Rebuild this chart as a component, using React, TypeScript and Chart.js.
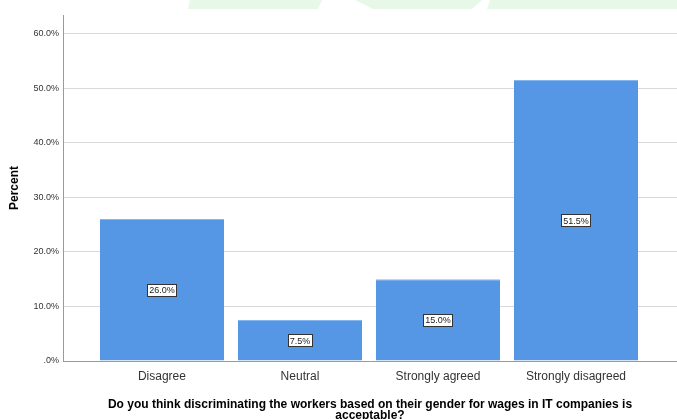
import React, { useEffect, useRef } from "react";
import { Chart, registerables } from "chart.js";

Chart.register(...registerables);

const categories = ["Disagree", "Neutral", "Strongly agreed", "Strongly disagreed"];
const percents = [26.0, 7.5, 15.0, 51.5];
const yTicks = [0, 10, 20, 30, 40, 50, 60];
const xTitleLines = [
  "Do you think discriminating the workers based on their gender for wages in IT companies is",
  "acceptable?",
];
const yTitle = "Percent";

const fmtPct = (v: number) => {
  const s = v.toFixed(1);
  return (s.startsWith("0") ? s.slice(1) : s) + "%";
};

const watermark = {
  id: "watermark",
  beforeDraw(chart: any) {
    const ctx = chart.ctx;
    ctx.save();
    ctx.fillStyle = "#e8f8e8";
    ctx.beginPath();
    ctx.moveTo(190, 0);
    ctx.lineTo(677, 0);
    ctx.lineTo(677, 9);
    ctx.lineTo(188, 9);
    ctx.closePath();
    ctx.fill();
    ctx.fillStyle = "#ffffff";
    ctx.beginPath();
    ctx.moveTo(322, 0);
    ctx.lineTo(355, 0);
    ctx.lineTo(373, 9);
    ctx.lineTo(318, 9);
    ctx.closePath();
    ctx.fill();
    ctx.beginPath();
    ctx.moveTo(482, 0);
    ctx.lineTo(490, 0);
    ctx.lineTo(487, 9);
    ctx.lineTo(472, 9);
    ctx.closePath();
    ctx.fill();
    ctx.restore();
  },
};

const valueLabels = {
  id: "valueLabels",
  afterDatasetsDraw(chart: any) {
    const ctx = chart.ctx;
    const meta = chart.getDatasetMeta(0);
    ctx.save();
    ctx.font = "9px 'Liberation Sans', Arial, sans-serif";
    ctx.textAlign = "center";
    ctx.textBaseline = "middle";
    meta.data.forEach((el: any, i: number) => {
      const text = fmtPct(percents[i]);
      const cx = el.x;
      const cy = (el.y + el.base) / 2;
      const w = Math.round(ctx.measureText(text).width) + 3;
      const h = 12;
      const x0 = Math.round(cx - w / 2) + 0.5;
      const y0 = Math.round(cy - h / 2) + 0.5;
      ctx.fillStyle = "#ffffff";
      ctx.fillRect(x0, y0, w, h);
      ctx.strokeStyle = "#333333";
      ctx.lineWidth = 1;
      ctx.strokeRect(x0, y0, w, h);
      ctx.fillStyle = "#222222";
      ctx.fillText(text, cx, cy + 1);
    });
    ctx.restore();
  },
};

export default function App() {
  const ref = useRef<HTMLCanvasElement>(null);
  useEffect(() => {
    document.body.style.margin = "0";
    const chart = new Chart(ref.current!, {
      type: "bar",
      data: {
        datasets: [
          {
            data: percents.map((v, i) => ({ x: i, y: v })),
            backgroundColor: "#5596e5",
            borderColor: "#86b6f0",
            borderWidth: { top: 1, left: 0, right: 0, bottom: 0 },
            borderSkipped: false,
            categoryPercentage: 0.9,
            barPercentage: 1,
          } as any,
        ],
      },
      plugins: [watermark, valueLabels],
      options: {
        animation: false,
        responsive: false,
        maintainAspectRatio: false,
        layout: { padding: { top: 15, right: 0, bottom: 0, left: 0 } },
        plugins: { legend: { display: false }, tooltip: { enabled: false } },
        scales: {
          x: {
            type: "linear",
            offset: false,
            min: -0.717,
            max: 3.732,
            afterBuildTicks: (scale: any) => {
              scale.ticks = categories.map((_, i) => ({ value: i }));
            },
            afterFit: (scale: any) => {
              scale.height = 58;
            },
            grid: { display: false, drawTicks: false },
            border: { display: true, color: "#9a9a9a", width: 1 },
            ticks: {
              padding: 8,
              color: "#333333",
              font: { family: "'Liberation Sans', Arial, sans-serif", size: 12 },
              callback: (v: any) => categories[v] ?? "",
              maxRotation: 0,
              autoSkip: false,
            },
            title: {
              display: true,
              text: xTitleLines,
              color: "#000000",
              font: { family: "'Liberation Sans', Arial, sans-serif", size: 12, weight: "bold", lineHeight: "11px" },
              padding: { top: 0, bottom: -2 },
            },
          },
          y: {
            min: 0,
            max: 63.4,
            afterBuildTicks: (scale: any) => {
              scale.ticks = yTicks.map((v) => ({ value: v }));
            },
            afterFit: (scale: any) => {
              scale.width = 63;
            },
            grid: { color: "#d9d9d9", lineWidth: 1, drawTicks: false },
            border: { display: true, color: "#9a9a9a", width: 1 },
            ticks: {
              padding: 4,
              color: "#333333",
              font: { family: "'Liberation Sans', Arial, sans-serif", size: 9 },
              callback: (v: any) => fmtPct(Number(v)),
            },
            title: {
              display: true,
              text: yTitle,
              color: "#000000",
              font: { family: "'Liberation Sans', Arial, sans-serif", size: 12, weight: "bold", lineHeight: "14px" },
              padding: { top: 8, bottom: 0 },
            },
          },
        },
      },
    });
    return () => chart.destroy();
  }, []);
  return (
    <div style={{ position: "absolute", left: 0, top: 0, width: 677, height: 419 }}>
      <canvas ref={ref} width={677} height={419} style={{ width: 677, height: 419 }} />
    </div>
  );
}
